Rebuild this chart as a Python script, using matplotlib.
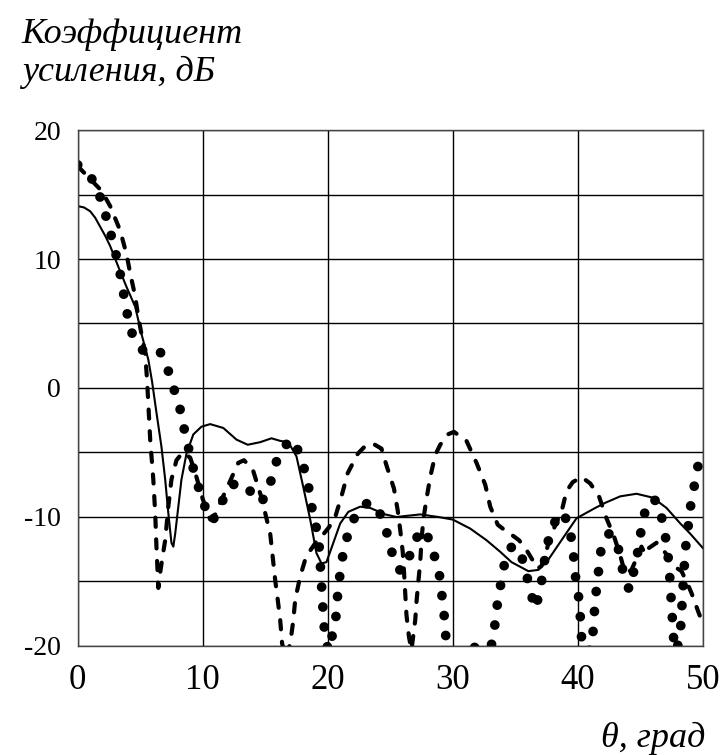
import matplotlib
matplotlib.use("Agg")
import matplotlib.pyplot as plt

plt.rcParams['font.family'] = ['Liberation Serif', 'DejaVu Serif']
plt.rcParams['axes.unicode_minus'] = False

# angle, degrees / gain, dB
solid_x = [0, 0.5, 1.0, 1.4, 1.8, 2.2, 2.6, 3.25, 3.9, 4.6, 5.1, 5.65, 5.95, 6.3, 6.7, 7.0, 7.25,
           7.5, 7.65, 7.8, 8.05, 8.3, 8.7, 9.25, 9.9, 10.6, 11.65, 12.7, 13.6, 14.6, 15.5, 16.2,
           16.85, 17.5, 18.05, 18.6, 19.1, 19.5, 19.9, 20.45, 21.0, 21.65, 22.6, 23.4, 24.6, 25.5,
           27.4, 28.85, 30.0, 31.4, 32.7, 33.8, 34.7, 36.05, 36.85, 37.65, 38.7, 39.9, 41.4,
           42.2, 43.4, 44.7, 46.0, 47.1, 48.2, 49.0, 50.0]
solid_y = [14.1, 14.0, 13.7, 13.2, 12.5, 11.8, 11.0, 9.4, 7.85, 6.3, 4.2, 2.2, 0.5, -1.9, -4.55, -7.1, -9.7,
           -12.0, -12.3, -11.3, -9.2, -7.1, -5.1, -3.6, -3.0, -2.8, -3.1, -4.0, -4.4, -4.2, -3.9, -4.1,
           -4.2, -5.3, -7.7, -10.2, -12.8, -13.6, -13.5, -12.0, -10.5, -9.6, -9.2, -9.3, -9.8, -10.0,
           -9.8, -10.0, -10.2, -10.9, -11.8, -12.7, -13.5, -14.2, -14.1, -13.3, -11.8, -10.1, -9.3,
           -8.9, -8.4, -8.2, -8.5, -9.3, -10.5, -11.3, -12.4]

dash_x = [0, 0.6, 1.2, 1.9, 2.6, 3.4, 3.9, 4.2, 4.6, 4.85, 5.1, 5.4, 5.55, 5.65, 5.8, 6.05,
          6.2, 6.3, 6.45, 6.6, 6.8, 7.0, 7.25, 7.5, 7.9, 8.4, 9.0, 9.5, 10.0, 10.6, 11.0, 11.4,
          12.2, 12.85, 13.3, 14.0, 14.7, 15.0, 15.4, 15.6, 15.8, 16.0, 16.2, 16.35, 16.65, 17.0,
          17.25, 17.4, 17.8, 18.2, 18.6, 19.1, 19.6, 20.1, 20.6, 21.1, 21.6, 22.4, 23.0, 23.6,
          24.3, 24.7, 25.3, 25.6, 25.8, 26.0, 26.1, 26.2, 26.3, 26.5, 26.7, 27.0, 27.1, 27.25,
          27.4, 27.5, 27.65, 27.9, 28.2, 28.6, 29.0, 29.6, 30.1, 31.1, 31.9, 32.6, 33.0, 33.6,
          34.0, 34.6, 35.3, 35.8, 36.3, 36.8, 37.1, 37.4, 37.8, 38.3, 38.7, 39.1, 39.6, 40.3,
          41.0, 41.7, 42.3, 42.9, 43.4, 43.8, 44.3, 44.8, 45.1, 45.4, 45.7, 46.3, 46.7, 47.1,
          47.5, 48.3, 48.7, 49.1, 49.7, 50.0]
dash_y = [17.2, 16.6, 16.0, 15.3, 14.1, 12.2, 10.4, 8.9, 7.1, 5.5, 4.2, 2.7, 0.6, -1.2, -4.0, -7.1,
          -9.7, -12.3, -15.5, -14.3, -13.0, -11.8, -9.2, -7.1, -5.6, -5.0, -5.4, -6.9, -8.6, -10.2, -9.8, -8.9,
          -7.2, -5.8, -5.6, -6.3, -8.5, -9.7, -11.3, -13.1, -14.9, -16.4, -18.0, -19.8, -21.0, -19.8,
          -18.0, -16.4, -14.6, -13.3, -12.6, -11.9, -11.4, -10.8, -10.0, -8.4, -6.6, -5.1, -4.5, -4.3,
          -4.7, -6.0, -7.8, -9.5, -11.0, -12.7, -14.2, -15.9, -17.6, -19.3, -20.3, -18.0, -16.6, -15.0,
          -13.5, -11.8, -10.2, -8.6, -6.9, -5.2, -4.4, -3.6, -3.4, -4.1, -5.8, -7.5, -9.2, -10.6,
          -10.9, -11.3, -11.8, -12.4, -13.2, -14.0, -13.8, -12.9, -11.6, -10.4, -9.6, -8.0, -7.3, -6.9,
          -7.4, -8.4, -10.1, -11.5, -13.0, -14.4, -14.1, -13.0, -12.3, -12.9, -12.4, -12.0, -12.4, -12.9,
          -13.7, -14.2, -15.0, -15.9, -17.5, -18.2]

dot_x = [0, 0.7, 1.4, 2.0, 2.5, 2.9, 3.3, 3.6, 3.9, 4.2, 5.1, 5.8, 6.6, 7.3, 7.8, 8.3, 8.6,
         9.0, 9.4, 9.9, 10.5, 10.8, 11.4, 12.2, 12.9, 13.6, 14.7, 15.4, 15.9, 16.8, 17.3, 17.9,
         18.4, 18.6, 19.0, 19.3, 19.4, 19.5, 19.6, 19.7, 19.95, 20.1, 20.4, 20.7, 20.8, 21.0,
         21.25, 21.7, 22.4, 23.2, 23.9, 24.6, 25.0, 25.5, 25.9, 26.3, 26.8, 27.4, 27.8, 28.4,
         28.9, 29.1, 29.3, 29.4, 29.7, 30.5, 31.5, 32.4, 33.2, 33.4, 33.6, 33.9, 34.2, 34.6,
         35.0, 35.4, 35.8, 36.1, 36.6, 37.0, 37.25, 37.5, 37.9, 38.6, 39.2, 39.4, 39.65, 39.8,
         40.05, 40.2, 40.3, 40.7, 41.1, 41.25, 41.35, 41.5, 41.7, 41.9, 42.5, 42.85, 43.4, 43.65,
         44.1, 44.3, 44.5, 44.9, 45.1, 45.5, 45.9, 46.4, 46.8, 47.1, 47.3, 47.4, 47.5, 47.6,
         47.7, 47.9, 48.2, 48.3, 48.4, 48.5, 48.6, 48.8, 49.0, 49.3, 49.6, 50.0]
dot_y = [17.3, 16.7, 15.9, 14.2, 12.5, 11.0, 9.4, 7.7, 6.1, 4.5, 3.0, 2.6, 2.8, 1.2, -0.4, -2.0, -3.6,
         -5.2, -6.9, -8.4, -10.1, -10.3, -9.1, -7.6, -7.3, -7.8, -8.9, -7.4, -5.7, -4.2, -4.0, -5.6,
         -7.1, -8.7, -10.4, -12.0, -13.6, -15.1, -16.8, -18.4, -20.0, -20.4, -19.0, -17.5, -15.9, -14.3,
         -12.7, -11.0, -9.5, -8.9, -9.1, -10.7, -12.3, -13.9, -14.2, -13.8, -12.2, -11.1, -11.0, -12.6,
         -14.2, -15.8, -17.4, -19.0, -20.5, -21.5, -20.0, -20.4, -19.8, -18.1, -16.5, -14.9, -13.3, -12.4,
         -12.2, -12.8, -13.9, -15.4, -17.1, -15.7, -14.0, -12.4, -10.9, -9.6, -10.3, -11.1, -12.8, -14.5,
         -16.0, -17.7, -19.3, -20.5, -20.2, -18.6, -17.1, -15.5, -13.9, -12.2, -11.3, -11.4, -12.9, -14.5,
         -15.6, -15.5, -14.0, -12.3, -10.75, -9.1, -8.6, -8.8, -10.4, -12.0, -13.7, -15.3, -16.8, -18.4,
         -19.9, -20.4, -19.1, -17.4, -15.8, -14.2, -12.6, -11.0, -9.3, -7.7, -6.1, -5.5]

x_ticks = [0, 10, 20, 30, 40, 50]
y_ticks = [-20, -10, 0, 10, 20]
y_grid = [-15, -5, 5, 15]

fig = plt.figure(figsize=(7.26, 7.55), dpi=100)
ax = fig.add_axes([0.107, 0.1444, 0.861, 0.6834])

ax.plot(solid_x, solid_y, color='black', lw=1.5, solid_joinstyle='round')
ax.plot(dash_x, dash_y, color='black', lw=3.0, linestyle=(0, (2.2, 3.0)),
        dash_capstyle='round', dash_joinstyle='round')
ax.plot(dot_x, dot_y, color='black', lw=7.0, linestyle=(0, (0.01, 2.05)),
        dash_capstyle='round')

ax.set_xlim(0, 50)
ax.set_ylim(-20, 20)
ax.set_xticks(x_ticks)
ax.set_yticks(y_ticks)
ax.set_yticks(y_grid, minor=True)
ax.grid(True, which='both', color='black', lw=1.0)
ax.set_axisbelow(True)
ax.tick_params(axis='both', which='both', length=0)
ax.tick_params(axis='x', labelsize=25, pad=13)
ax.tick_params(axis='y', labelsize=20, pad=12)
for s in ax.spines.values():
    s.set_color('#444444')
    s.set_linewidth(1.0)

fig.text(0.030, 0.943, 'Коэффициент', fontsize=26, style='italic')
fig.text(0.030, 0.893, 'усиления, дБ', fontsize=26, style='italic')
fig.text(0.971, 0.010, 'θ, град', fontsize=26, style='italic', ha='right')

fig.savefig('out.png', dpi=100)
